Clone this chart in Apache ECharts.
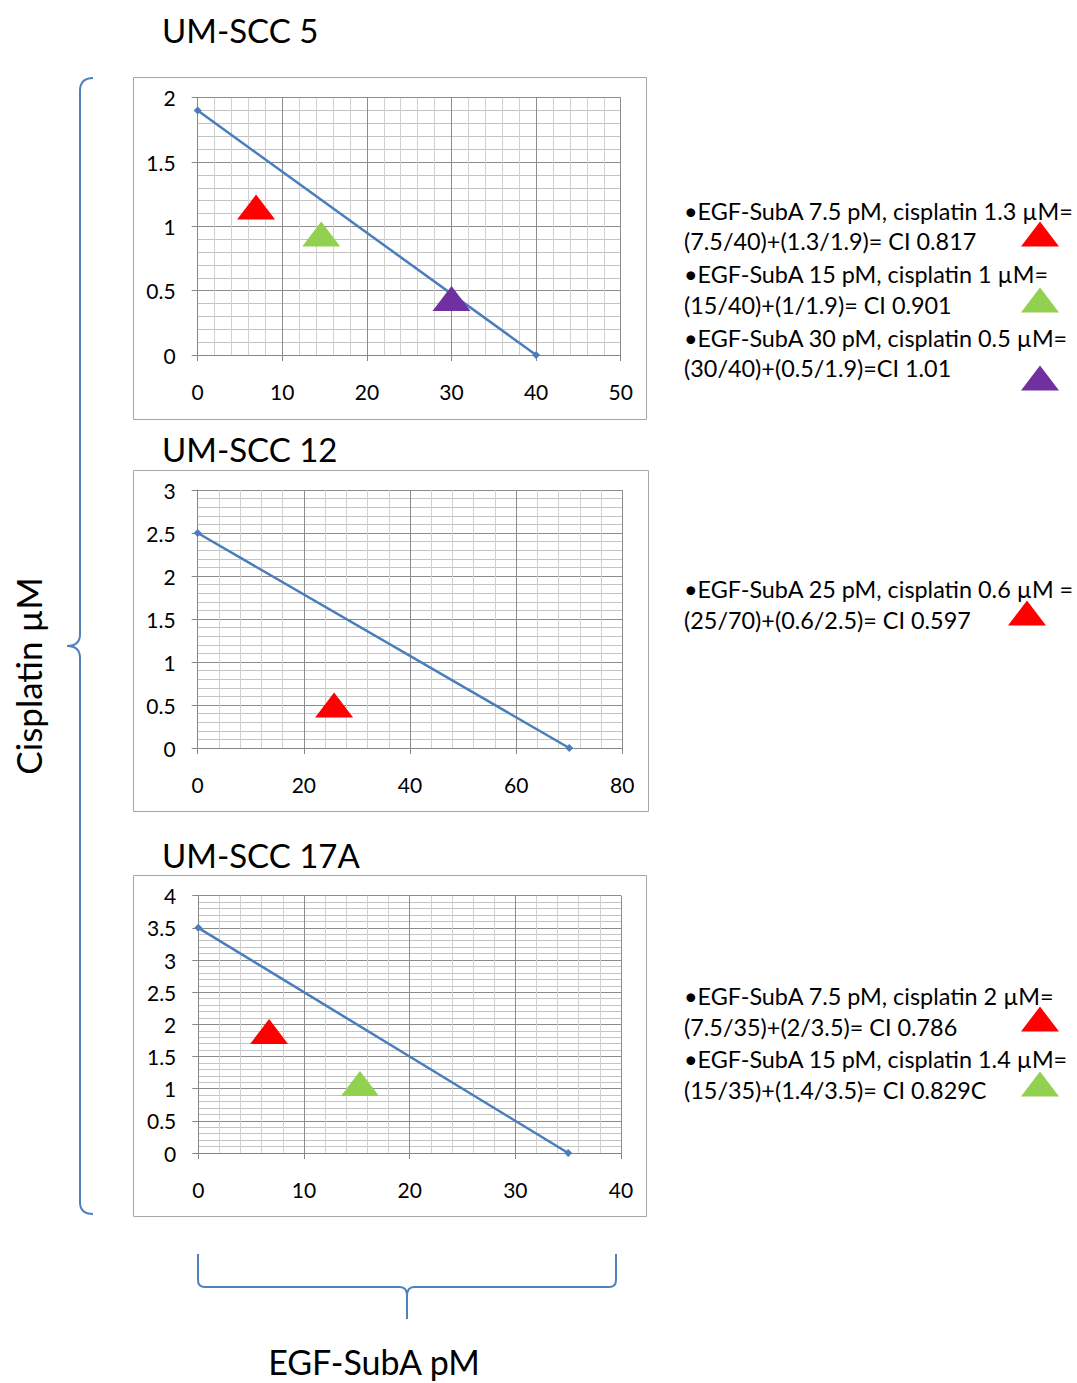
<!DOCTYPE html>
<html>
<head>
<meta charset="utf-8">
<script src="https://cdn.jsdelivr.net/npm/echarts@6/dist/echarts.min.js"></script>
<style>
html,body{margin:0;padding:0;background:#fff;}
#c{width:1077px;height:1383px;}
</style>
</head>
<body>
<div id="c"></div>
<script>
// ---- data ----
const titles = ['UM-SCC 5', 'UM-SCC 12', 'UM-SCC 17A'];
const xMax = [50, 80, 40];
const xInterval = [10, 20, 10];
const yMax = [2, 3, 4];
const yInterval = [0.5, 0.5, 0.5];

const isobole1 = [[0, 1.9], [40, 0]];
const isobole2 = [[0, 2.5], [70, 0]];
const isobole3 = [[0, 3.5], [35, 0]];

const combo1 = [[6.9, 1.15], [14.6, 0.94], [30, 0.44]];
const combo2 = [[25.7, 0.5]];
const combo3 = [[6.7, 1.89], [15.3, 1.08]];

const combo1Colors = ['#ff0000', '#92d050', '#7030a0'];
const combo2Colors = ['#ff0000'];
const combo3Colors = ['#ff0000', '#92d050'];

const notes1 = ['•EGF-SubA 7.5 pM, cisplatin 1.3 µM=', '(7.5/40)+(1.3/1.9)= CI 0.817',
                '•EGF-SubA 15 pM, cisplatin 1 µM=', '(15/40)+(1/1.9)= CI 0.901',
                '•EGF-SubA 30 pM, cisplatin 0.5 µM=', '(30/40)+(0.5/1.9)=CI 1.01'];
const notes2 = ['•EGF-SubA 25 pM, cisplatin 0.6 µM =', '(25/70)+(0.6/2.5)= CI 0.597'];
const notes3 = ['•EGF-SubA 7.5 pM, cisplatin 2 µM=', '(7.5/35)+(2/3.5)= CI 0.786',
                '•EGF-SubA 15 pM, cisplatin 1.4 µM=', '(15/35)+(1.4/3.5)= CI 0.829C'];

const yName = 'Cisplatin µM';
const xName = 'EGF-SubA pM';

// ---- layout ----
const FONT = 'Lato, "Open Sans", sans-serif';
const grids = [
  {left: 197.7, top: 97.7, width: 423, height: 257.3},
  {left: 197.7, top: 490, width: 424.6, height: 258},
  {left: 198.3, top: 895.7, width: 422.7, height: 257.3}
];
const boxes = [
  {x: 133.5, y: 77.5, width: 513, height: 342},
  {x: 133.5, y: 470.5, width: 515, height: 341},
  {x: 133.5, y: 875.5, width: 513, height: 341}
];
const titlePos = [[162, 30], [162, 449], [162, 855]];
const noteY = [[211, 241, 274, 305, 338, 368], [589, 620], [996, 1027, 1059, 1090]];
const legendTri = [
  [[1040, 234, '#ff0000'], [1040, 300, '#92d050'], [1040, 378, '#7030a0']],
  [[1027, 613, '#ff0000']],
  [[1040, 1019, '#ff0000'], [1040, 1084, '#92d050']]
];

const isoboles = [isobole1, isobole2, isobole3];
const combos = [combo1, combo2, combo3];
const comboColors = [combo1Colors, combo2Colors, combo3Colors];
const notes = [notes1, notes2, notes3];

const AXIS = '#868686';
const xAxes = [], yAxes = [], series = [];
for (let i = 0; i < 3; i++) {
  xAxes.push({
    type: 'value', gridIndex: i, min: 0, max: xMax[i], interval: xInterval[i],
    axisLine: {show: true, onZero: false, lineStyle: {color: AXIS, width: 1}},
    axisTick: {show: true, length: 6, lineStyle: {color: AXIS}},
    axisLabel: {fontSize: 21, color: '#000', fontFamily: FONT, margin: 26},
    splitLine: {show: true, lineStyle: {color: '#8c8c8c', width: 1}},
    minorTick: {show: false, splitNumber: 5},
    minorSplitLine: {show: true, lineStyle: {color: '#d0d0d0', width: 1}}
  });
  yAxes.push({
    type: 'value', gridIndex: i, min: 0, max: yMax[i], interval: yInterval[i],
    axisLine: {show: true, onZero: false, lineStyle: {color: AXIS, width: 1}},
    axisTick: {show: true, length: 6, lineStyle: {color: AXIS}},
    axisLabel: {fontSize: 21, color: '#000', fontFamily: FONT, margin: 22},
    splitLine: {show: true, lineStyle: {color: '#8c8c8c', width: 1}},
    minorTick: {show: false, splitNumber: 5},
    minorSplitLine: {show: true, lineStyle: {color: '#c4c4c4', width: 1}}
  });
  series.push({
    type: 'line', xAxisIndex: i, yAxisIndex: i, data: isoboles[i],
    symbol: 'diamond', symbolSize: 8, showSymbol: true,
    lineStyle: {color: '#4a7ebb', width: 2.5},
    itemStyle: {color: '#4a7ebb'}, z: 3, animation: false
  });
  series.push({
    type: 'scatter', xAxisIndex: i, yAxisIndex: i,
    data: combos[i].map((p, k) => ({value: p, itemStyle: {color: comboColors[i][k], opacity: 1}})),
    itemStyle: {opacity: 1},
    symbol: 'triangle', symbolSize: [38, 25], z: 4, animation: false
  });
}

const graphics = [];
for (let i = 0; i < 3; i++) {
  graphics.push({type: 'rect', shape: boxes[i], style: {fill: 'none', stroke: '#a6a6a6', lineWidth: 1}, z: 0});
  graphics.push({type: 'text', x: titlePos[i][0], y: titlePos[i][1],
    style: {text: titles[i], font: '33px ' + FONT, fill: '#000', verticalAlign: 'middle', align: 'left'}});
  notes[i].forEach((t, k) => {
    graphics.push({type: 'text', x: 684, y: noteY[i][k],
      style: {text: t, font: '23.4px ' + FONT, fill: '#000', verticalAlign: 'middle', align: 'left'}});
  });
  legendTri[i].forEach(([cx, cy, col]) => {
    graphics.push({type: 'polygon', shape: {points: [[cx, cy - 12.5], [cx + 19, cy + 12.5], [cx - 19, cy + 12.5]]},
      style: {fill: col}});
  });
}
// braces
const BR = {fill: 'none', stroke: '#4f81bd', lineWidth: 2};
function ln(x1, y1, x2, y2) { graphics.push({type: 'line', shape: {x1, y1, x2, y2}, style: BR}); }
function qc(x1, y1, cx, cy, x2, y2) { graphics.push({type: 'bezierCurve', shape: {x1, y1, cpx1: cx, cpy1: cy, x2, y2}, style: BR}); }
// left brace
qc(93, 78, 80, 78, 80, 91); ln(80, 91, 80, 634); qc(80, 634, 80, 646, 67, 646);
qc(67, 646, 80, 646, 80, 658); ln(80, 658, 80, 1202); qc(80, 1202, 80, 1214, 93, 1214);
// bottom brace
ln(198, 1254, 198, 1280); qc(198, 1280, 198, 1287, 205, 1287); ln(205, 1287, 400, 1287);
qc(400, 1287, 407, 1287, 407, 1296); ln(407, 1296, 407, 1319);
ln(616, 1254, 616, 1280); qc(616, 1280, 616, 1287, 609, 1287); ln(609, 1287, 414, 1287);
qc(414, 1287, 407, 1287, 407, 1296);
// axis names
graphics.push({type: 'text', x: 28, y: 676, rotation: Math.PI / 2,
  style: {text: yName, font: '35px ' + FONT, fill: '#000', align: 'center', verticalAlign: 'middle'}});
graphics.push({type: 'text', x: 374, y: 1361,
  style: {text: xName, font: '34px ' + FONT, fill: '#000', align: 'center', verticalAlign: 'middle'}});

const chart = echarts.init(document.getElementById('c'), null, {renderer: 'svg', width: 1077, height: 1383});
chart.setOption({
  backgroundColor: '#fff',
  animation: false,
  grid: grids,
  xAxis: xAxes,
  yAxis: yAxes,
  series: series,
  graphic: graphics
});
</script>
</body>
</html>
